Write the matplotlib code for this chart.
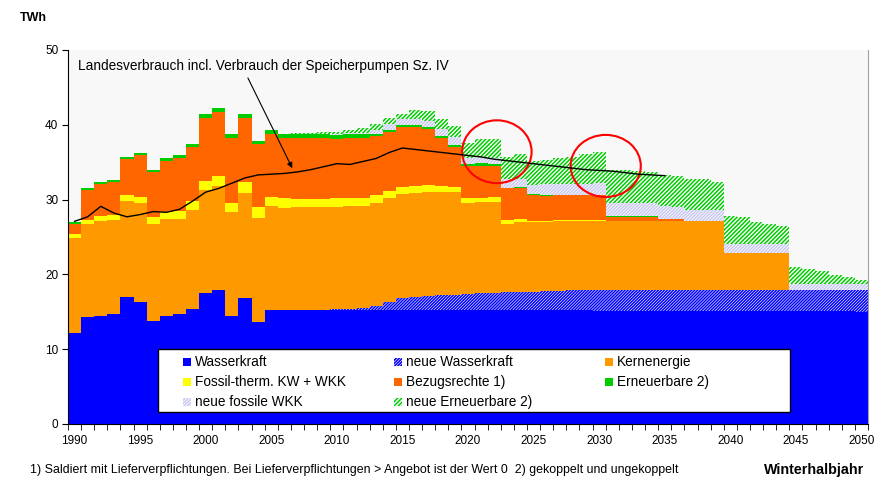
import numpy as np
import matplotlib.pyplot as plt
from matplotlib.patches import Ellipse, Rectangle

plt.rcParams['font.family'] = ['Liberation Sans', 'DejaVu Sans']
plt.rcParams['hatch.linewidth'] = 1.1

# Winterhalbjahr, TWh
years = np.arange(1990, 2051)

wasserkraft = [12.2, 14.3, 14.4, 14.7, 17.0, 16.3, 13.8, 14.4, 14.7, 15.4,
               17.5, 17.9, 14.4, 16.8, 13.6, 15.3, 15.3, 15.3, 15.3, 15.3] \
    + [15.3] * 20 + [15.15] * 20 + [15.0]

neue_wasserkraft = [0.0] * 20 + [
    0.05, 0.1, 0.2, 0.5, 1.0, 1.6, 1.7, 1.8, 1.9, 2.0,
    2.1, 2.15, 2.2, 2.3, 2.35, 2.4, 2.45, 2.5, 2.55, 2.6] + [2.75] * 20 + [2.9]

kernenergie = [12.7, 12.4, 12.7, 12.6, 12.8, 13.2, 13.0, 13.0, 12.7, 13.2,
               13.8, 13.9, 13.9, 14.1, 14.0, 13.8, 13.6, 13.7, 13.7, 13.7,
               13.7, 13.8, 13.7, 13.7, 13.9, 13.9, 13.9, 13.9, 13.8, 13.7,
               12.2, 12.2, 12.2, 9.2, 9.3, 9.3, 9.3, 9.3, 9.25, 9.2] \
    + [9.2] * 10 + [4.9] * 5 + [0.0] * 6

fossil = [0.5, 0.6, 0.7, 0.7, 0.8, 0.9, 0.9, 1.0, 1.1, 1.2,
          1.2, 1.4, 1.3, 1.5, 1.4, 1.2, 1.3, 1.1, 1.1, 1.1,
          1.1, 1.0, 1.0, 1.1, 0.9, 0.9, 0.9, 0.9, 0.8, 0.7,
          0.6, 0.6, 0.6, 0.5, 0.4, 0.15, 0.15, 0.15, 0.15, 0.15,
          0.15] + [0.0] * 20

bezugsrechte = [1.4, 4.0, 4.3, 4.4, 4.8, 5.5, 6.0, 6.8, 7.1, 7.2,
                8.4, 8.5, 8.7, 8.5, 8.4, 8.5, 8.0, 8.1, 8.1, 8.1,
                8.0, 8.0, 8.0, 7.9, 7.9, 8.0, 7.9, 7.5, 6.4, 5.3,
                4.3, 4.3, 4.2, 4.2, 4.2, 3.45, 3.3, 3.3, 3.3, 3.3,
                3.3, 0.6, 0.6, 0.6, 0.6, 0.3, 0.3, 0.05, 0.05, 0.05] + [0.0] * 11

erneuerbare = [0.2, 0.2, 0.2, 0.2, 0.3, 0.3, 0.3, 0.3, 0.4, 0.4,
               0.5, 0.5, 0.5, 0.5, 0.5, 0.5, 0.55, 0.55, 0.55, 0.55,
               0.55, 0.55, 0.55, 0.3, 0.3, 0.3, 0.3, 0.3, 0.3, 0.3,
               0.3, 0.3, 0.2, 0.1, 0.1, 0.1, 0.1, 0.1, 0.1, 0.1,
               0.1, 0.15, 0.15, 0.15, 0.15] + [0.0] * 16

neue_fossile_wkk = [0.0] * 18 + [
    0.05, 0.05, 0.1, 0.15, 0.2, 0.5, 0.8, 0.8, 0.8, 0.8,
    1.0, 1.1, 0.7, 0.8, 0.9, 1.1, 1.1, 1.3, 1.5, 1.5,
    1.5, 1.5, 1.6, 1.65, 1.65, 1.65, 1.65, 1.7, 1.6, 1.45,
    1.45, 1.45] + [1.2] * 5 + [0.75] * 6

neue_erneuerbare = [0.0] * 17 + [
    0.1, 0.1, 0.2, 0.3, 0.4, 0.6, 0.8, 0.8, 0.7, 1.2,
    1.4, 1.3, 1.4, 2.0, 2.4, 2.5, 3.0, 3.3, 3.1, 3.2,
    3.4, 3.6, 3.9, 4.1, 4.4, 4.5, 4.3, 4.2, 4.2, 4.2,
    4.2, 4.1, 3.8, 3.8, 3.7, 3.0, 2.8, 2.5, 2.35, 2.05,
    1.75, 1.25, 0.95, 0.65]

verbrauch_jahre = np.arange(1990, 2036)
landesverbrauch = [27.1, 27.7, 29.1, 28.2, 27.7, 28.0, 28.4, 28.3, 28.7, 29.8,
                   31.0, 31.5, 32.2, 32.9, 33.3, 33.4, 33.5, 33.7, 34.0, 34.4,
                   34.8, 34.7, 35.1, 35.5, 36.3, 36.9, 36.7, 36.5, 36.3, 36.1,
                   35.9, 35.7, 35.4, 35.2, 35.0, 34.8, 34.6, 34.4, 34.2, 34.0,
                   33.9, 33.8, 33.6, 33.4, 33.3, 33.2]

serien = [
    ('Wasserkraft', wasserkraft, dict(facecolor='#0000ff')),
    ('neue Wasserkraft', neue_wasserkraft, dict(facecolor='white', edgecolor='#0000ff', hatch='/' * 11)),
    ('Kernenergie', kernenergie, dict(facecolor='#ff9900')),
    ('Fossil-therm. KW + WKK', fossil, dict(facecolor='#ffff00')),
    ('Bezugsrechte 1)', bezugsrechte, dict(facecolor='#ff6600')),
    ('Erneuerbare 2)', erneuerbare, dict(facecolor='#00cc00')),
    ('neue fossile WKK', neue_fossile_wkk, dict(facecolor='white', edgecolor='#c8c8f0', hatch='/' * 10)),
    ('neue Erneuerbare 2)', neue_erneuerbare, dict(facecolor='white', edgecolor='#00cc00', hatch='/' * 8)),
]

W, H = 877, 484
fig = plt.figure(figsize=(W / 100, H / 100), dpi=100)
ax = fig.add_axes([68 / W, 60 / H, 800 / W, 374 / H])
ax.set_facecolor('#f8f8f8')

bottom = np.zeros(len(years))
for name, werte, style in serien:
    werte = np.array(werte)
    ax.bar(years, werte, width=1.0, bottom=bottom, linewidth=0, **style)
    bottom += werte

ax.plot(verbrauch_jahre, landesverbrauch, color='black', lw=1.0)

# rote Markierungen
ax.add_patch(Ellipse((2022.2, 36.4), 5.3, 8.4, fill=False, edgecolor='#ff0000', lw=1.5))
ax.add_patch(Ellipse((2030.5, 34.5), 5.35, 8.3, fill=False, edgecolor='#ff0000', lw=1.5))

ax.annotate('Landesverbrauch incl. Verbrauch der Speicherpumpen Sz. IV',
            xy=(2006.6, 34.2), xytext=(1990.3, 47.9), fontsize=9.8, va='center',
            arrowprops=dict(arrowstyle='-|>', color='black', lw=0.8, relpos=(0.45, 0),
                            shrinkA=2, shrinkB=0, mutation_scale=8))

ax.set_xlim(1989.5, 2050.5)
ax.set_ylim(0, 50)
ax.set_xticks(range(1990, 2051, 5))
ax.set_xticks(np.arange(1989.5, 2051, 1), minor=True)
ax.set_yticks(range(0, 51, 10))
ax.tick_params(axis='x', which='major', length=0, pad=8, labelsize=8.5)
ax.tick_params(axis='x', which='minor', length=4, direction='out')
ax.tick_params(axis='y', length=4, direction='out', labelsize=8.5, pad=3)
ax.spines['top'].set_visible(False)
ax.spines['right'].set_color('#a0a0a0')

# Legende: drei gleich breite Spalten
fig.add_artist(Rectangle((158 / W, 1 - 412 / H), 632 / W, 63 / H, transform=fig.transFigure,
                         facecolor='white', edgecolor='black', lw=1.0))
spalten_x = [183, 394, 605]
zeilen_y = [362, 382, 402]
for i, (name, werte, style) in enumerate(serien):
    x = spalten_x[i % 3]
    y = zeilen_y[i // 3]
    fig.add_artist(Rectangle((x / W, 1 - (y + 4) / H), 8 / W, 8 / H, transform=fig.transFigure,
                             linewidth=0, **style))
    fig.text((x + 12) / W, 1 - y / H, name, fontsize=9.8, va='center')

fig.text(20 / W, 1 - 18 / H, 'TWh', fontweight='bold', fontsize=9, va='center')
fig.text(30 / W, 1 - 470 / H,
         '1) Saldiert mit Lieferverpflichtungen. Bei Lieferverpflichtungen > Angebot ist der Wert 0  '
         '2) gekoppelt und ungekoppelt', fontsize=8.9, va='center')
fig.text(864 / W, 1 - 470 / H, 'Winterhalbjahr', fontweight='bold', fontsize=10.3,
         ha='right', va='center')

fig.savefig('out.png', dpi=100)
